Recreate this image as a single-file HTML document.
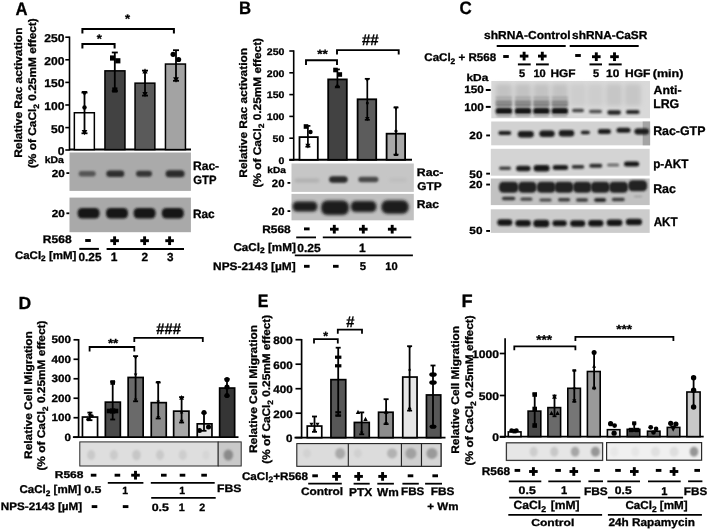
<!DOCTYPE html>
<html><head><meta charset="utf-8"><style>
html,body{margin:0;padding:0;background:#fff;}
svg{display:block;}
text{font-family:"Liberation Sans", sans-serif;stroke:#000;stroke-width:0.3px;text-rendering:geometricPrecision;}
svg{will-change:transform;}
</style></head><body>
<svg width="708" height="530" viewBox="0 0 708 530" font-family='"Liberation Sans", sans-serif'>
<defs>
<filter id="b2" x="-50%" y="-50%" width="200%" height="200%"><feGaussianBlur stdDeviation="0.2"/></filter>
<filter id="b8" x="-50%" y="-50%" width="200%" height="200%"><feGaussianBlur stdDeviation="0.8"/></filter>
<filter id="b9" x="-50%" y="-50%" width="200%" height="200%"><feGaussianBlur stdDeviation="0.9"/></filter>
<filter id="b10" x="-50%" y="-50%" width="200%" height="200%"><feGaussianBlur stdDeviation="1.0"/></filter>
<filter id="b11" x="-50%" y="-50%" width="200%" height="200%"><feGaussianBlur stdDeviation="1.1"/></filter>
<filter id="b12" x="-50%" y="-50%" width="200%" height="200%"><feGaussianBlur stdDeviation="1.2"/></filter>
<filter id="b13" x="-50%" y="-50%" width="200%" height="200%"><feGaussianBlur stdDeviation="1.3"/></filter>
<filter id="b14" x="-50%" y="-50%" width="200%" height="200%"><feGaussianBlur stdDeviation="1.4"/></filter>
<filter id="b15" x="-50%" y="-50%" width="200%" height="200%"><feGaussianBlur stdDeviation="1.5"/></filter>
<filter id="b22" x="-50%" y="-50%" width="200%" height="200%"><feGaussianBlur stdDeviation="2.2"/></filter>
</defs>
<rect width="708" height="530" fill="#fff"/>
<text x="15.5" y="14.5" font-size="18.12" text-anchor="start" font-weight="bold" fill="#000" textLength="12.04" lengthAdjust="spacingAndGlyphs">A</text>
<text transform="translate(21.9,157.84) rotate(-90)" x="0" y="0" font-size="11" font-weight="bold" textLength="130.29" lengthAdjust="spacingAndGlyphs">Relative Rac activation</text>
<text transform="translate(36.3,168.09) rotate(-90)" x="0" y="0" font-size="11" font-weight="bold" textLength="149.87" lengthAdjust="spacingAndGlyphs">(% of CaCl<tspan font-size="7.9" dy="2.5">2</tspan><tspan dy="-2.5"> 0.25mM effect)</tspan></text>
<line x1="69.5" y1="36.5" x2="69.5" y2="150.4" stroke="#000" stroke-width="1.6"/>
<line x1="65.3" y1="37.2" x2="69.5" y2="37.2" stroke="#000" stroke-width="1.6"/>
<text x="44.3" y="42.23" font-size="11.4" text-anchor="start" font-weight="bold" fill="#000" textLength="20.16" lengthAdjust="spacingAndGlyphs">250</text>
<line x1="65.3" y1="59.8" x2="69.5" y2="59.8" stroke="#000" stroke-width="1.6"/>
<text x="44.3" y="64.83" font-size="11.4" text-anchor="start" font-weight="bold" fill="#000" textLength="20.16" lengthAdjust="spacingAndGlyphs">200</text>
<line x1="65.3" y1="82.4" x2="69.5" y2="82.4" stroke="#000" stroke-width="1.6"/>
<text x="44.3" y="87.43" font-size="11.4" text-anchor="start" font-weight="bold" fill="#000" textLength="20.16" lengthAdjust="spacingAndGlyphs">150</text>
<line x1="65.3" y1="105.0" x2="69.5" y2="105.0" stroke="#000" stroke-width="1.6"/>
<text x="44.3" y="110.03" font-size="11.4" text-anchor="start" font-weight="bold" fill="#000" textLength="20.16" lengthAdjust="spacingAndGlyphs">100</text>
<line x1="65.3" y1="127.6" x2="69.5" y2="127.6" stroke="#000" stroke-width="1.6"/>
<text x="50.95" y="132.63" font-size="11.4" text-anchor="start" font-weight="bold" fill="#000" textLength="13.44" lengthAdjust="spacingAndGlyphs">50</text>
<line x1="65.3" y1="150" x2="69.5" y2="150" stroke="#000" stroke-width="1.6"/>
<text x="57.72" y="155.03" font-size="11.4" text-anchor="start" font-weight="bold" fill="#000" textLength="6.72" lengthAdjust="spacingAndGlyphs">0</text>
<line x1="69" y1="149.6" x2="191" y2="149.6" stroke="#000" stroke-width="2"/>
<rect x="74.35" y="112.75" width="20.0" height="36.849999999999994" fill="#ffffff" stroke="#000" stroke-width="1.5"/>
<rect x="104.95" y="70.85" width="20.0" height="78.75" fill="#424242" stroke="#000" stroke-width="1.5"/>
<rect x="135.05" y="83.15" width="19.799999999999983" height="66.44999999999999" fill="#5a5a5a" stroke="#000" stroke-width="1.5"/>
<rect x="165.45" y="64.05" width="20.0" height="85.55" fill="#a3a3a3" stroke="#000" stroke-width="1.5"/>
<line x1="84.5" y1="92.6" x2="84.5" y2="133.3" stroke="#000" stroke-width="1.8"/>
<line x1="81.5" y1="92.6" x2="87.5" y2="92.6" stroke="#000" stroke-width="1.8"/>
<line x1="81.5" y1="133.3" x2="87.5" y2="133.3" stroke="#000" stroke-width="1.8"/>
<polygon points="81.64,90.9 87.36,90.9 84.5,96.36" fill="#000"/>
<circle cx="84.5" cy="107.5" r="2.2" fill="#000"/>
<polygon points="81.64,129.9 87.36,129.9 84.5,135.36" fill="#000"/>
<line x1="114.8" y1="52.5" x2="114.8" y2="91" stroke="#000" stroke-width="1.8"/>
<line x1="111.8" y1="52.5" x2="117.8" y2="52.5" stroke="#000" stroke-width="1.8"/>
<line x1="111.8" y1="91" x2="117.8" y2="91" stroke="#000" stroke-width="1.8"/>
<rect x="110.0" y="55.4" width="5.2" height="5.2" fill="#000"/>
<rect x="115.2" y="58.199999999999996" width="5.2" height="5.2" fill="#000"/>
<rect x="112.2" y="87.4" width="5.2" height="5.2" fill="#000"/>
<line x1="145" y1="70.6" x2="145" y2="95.6" stroke="#000" stroke-width="1.8"/>
<line x1="142.0" y1="70.6" x2="148.0" y2="70.6" stroke="#000" stroke-width="1.8"/>
<line x1="142.0" y1="95.6" x2="148.0" y2="95.6" stroke="#000" stroke-width="1.8"/>
<polygon points="142.36,73.4 147.64,73.4 145,68.36" fill="#000"/>
<polygon points="142.36,92.1 147.64,92.1 145,97.14" fill="#000"/>
<line x1="176" y1="50.2" x2="176" y2="80.8" stroke="#000" stroke-width="1.8"/>
<line x1="173.0" y1="50.2" x2="179.0" y2="50.2" stroke="#000" stroke-width="1.8"/>
<line x1="173.0" y1="80.8" x2="179.0" y2="80.8" stroke="#000" stroke-width="1.8"/>
<circle cx="173.1" cy="54.3" r="2.6" fill="#000"/>
<circle cx="178.6" cy="59.5" r="2.6" fill="#000"/>
<polygon points="173.14,77.2 178.86,77.2 176,82.66" fill="#000"/>
<polyline points="82.4,33.4 82.4,29.0 173.9,29.0 173.9,33.4" fill="none" stroke="#000" stroke-width="2"/>
<text x="125.0" y="22.88" font-size="12.43" text-anchor="start" font-weight="bold" fill="#000" textLength="5.09" lengthAdjust="spacingAndGlyphs">*</text>
<polyline points="82.4,48.5 82.4,44.1 114.6,44.1 114.6,48.5" fill="none" stroke="#000" stroke-width="2"/>
<text x="96.8" y="43.08" font-size="12.43" text-anchor="start" font-weight="bold" fill="#000" textLength="5.09" lengthAdjust="spacingAndGlyphs">*</text>
<rect x="69.5" y="152.5" width="121.4" height="38.4" fill="#aaaaaa"/>
<rect x="78.70" y="170.95" width="17" height="5.5" rx="2.75" fill="#555555" opacity="1" filter="url(#b12)"/>
<rect x="106.30" y="170.45" width="18" height="6.5" rx="3.25" fill="#2e2e2e" opacity="1" filter="url(#b12)"/>
<rect x="136.00" y="170.70" width="16" height="6" rx="3.0" fill="#353535" opacity="1" filter="url(#b12)"/>
<rect x="165.60" y="170.20" width="19" height="7" rx="3.5" fill="#2a2a2a" opacity="1" filter="url(#b12)"/>
<rect x="69.5" y="197.6" width="121.4" height="34.6" fill="#a9a9a9"/>
<rect x="77.60" y="207.95" width="22" height="10.5" rx="4.5" fill="#161616" opacity="1" filter="url(#b13)"/>
<rect x="106.00" y="207.95" width="22" height="10.5" rx="4.5" fill="#161616" opacity="1" filter="url(#b13)"/>
<rect x="133.60" y="207.95" width="22" height="10.5" rx="4.5" fill="#161616" opacity="1" filter="url(#b13)"/>
<rect x="161.80" y="207.95" width="22" height="10.5" rx="4.5" fill="#161616" opacity="1" filter="url(#b13)"/>
<text x="44.77" y="162.71" font-size="9.45" text-anchor="start" font-weight="bold" fill="#000" textLength="19.17" lengthAdjust="spacingAndGlyphs">kDa</text>
<text x="51.75" y="177.0" font-size="10.28" text-anchor="start" font-weight="bold" fill="#000" textLength="13.03" lengthAdjust="spacingAndGlyphs">20</text>
<rect x="66.4" y="172.2" width="2.9" height="1.8" fill="#000"/>
<text x="51.75" y="216.6" font-size="10.28" text-anchor="start" font-weight="bold" fill="#000" textLength="13.03" lengthAdjust="spacingAndGlyphs">20</text>
<rect x="66.4" y="212.4" width="2.9" height="1.8" fill="#000"/>
<text x="192.95" y="169.68" font-size="12.29" text-anchor="start" font-weight="bold" fill="#000" textLength="26.22" lengthAdjust="spacingAndGlyphs">Rac-</text>
<text x="193.35" y="183.78" font-size="11.97" text-anchor="start" font-weight="bold" fill="#000" textLength="23.15" lengthAdjust="spacingAndGlyphs">GTP</text>
<text x="192.97" y="217.68" font-size="12.0" text-anchor="start" font-weight="bold" fill="#000" textLength="21.72" lengthAdjust="spacingAndGlyphs">Rac</text>
<text x="42.86" y="243.19" font-size="10.99" text-anchor="start" font-weight="bold" fill="#000" textLength="28.71" lengthAdjust="spacingAndGlyphs">R568</text>
<rect x="85.2" y="239.05" width="5.6" height="2.9" fill="#000"/>
<rect x="110.3" y="239.25" width="8.6" height="2.9" fill="#000"/>
<rect x="113.14999999999999" y="236.35" width="2.9" height="8.7" fill="#000"/>
<rect x="140.29999999999998" y="239.25" width="8.6" height="2.9" fill="#000"/>
<rect x="143.15" y="236.35" width="2.9" height="8.7" fill="#000"/>
<rect x="165.29999999999998" y="239.25" width="8.6" height="2.9" fill="#000"/>
<rect x="168.15" y="236.35" width="2.9" height="8.7" fill="#000"/>
<line x1="79.3" y1="248.9" x2="98.9" y2="248.9" stroke="#000" stroke-width="2"/>
<line x1="106.6" y1="248.9" x2="184" y2="248.9" stroke="#000" stroke-width="2"/>
<text x="14.9" y="258.9" font-size="11" text-anchor="start" font-weight="bold" fill="#000" textLength="61.5" lengthAdjust="spacingAndGlyphs">CaCl<tspan font-size="7.9" dy="2.5">2</tspan><tspan dy="-2.5"> [mM]</tspan></text>
<text x="78.53" y="261.08" font-size="11.69" text-anchor="start" font-weight="bold" fill="#000" textLength="22.98" lengthAdjust="spacingAndGlyphs">0.25</text>
<text x="110.65" y="261.2" font-size="12.03" text-anchor="start" font-weight="bold" fill="#000">1</text>
<text x="141.43" y="261.2" font-size="11.86" text-anchor="start" font-weight="bold" fill="#000">2</text>
<text x="167.12" y="261.08" font-size="11.69" text-anchor="start" font-weight="bold" fill="#000">3</text>
<text x="239.03" y="14.4" font-size="17.97" text-anchor="start" font-weight="bold" fill="#000" textLength="12.08" lengthAdjust="spacingAndGlyphs">B</text>
<text transform="translate(247.0,177.63) rotate(-90)" x="0" y="0" font-size="11" font-weight="bold" textLength="129.68" lengthAdjust="spacingAndGlyphs">Relative Rac activation</text>
<text transform="translate(261.2,187.59) rotate(-90)" x="0" y="0" font-size="11" font-weight="bold" textLength="149.67" lengthAdjust="spacingAndGlyphs">(% of CaCl<tspan font-size="7.9" dy="2.5">2</tspan><tspan dy="-2.5"> 0.25mM effect)</tspan></text>
<line x1="293.7" y1="50.3" x2="293.7" y2="160.5" stroke="#000" stroke-width="1.6"/>
<line x1="289.3" y1="51.0" x2="293.7" y2="51.0" stroke="#000" stroke-width="1.6"/>
<text x="266.79" y="54.71" font-size="9.6" text-anchor="start" font-weight="bold" fill="#000" textLength="17.62" lengthAdjust="spacingAndGlyphs">250</text>
<line x1="289.3" y1="72.8" x2="293.7" y2="72.8" stroke="#000" stroke-width="1.6"/>
<text x="266.79" y="76.51" font-size="9.6" text-anchor="start" font-weight="bold" fill="#000" textLength="17.62" lengthAdjust="spacingAndGlyphs">200</text>
<line x1="289.3" y1="94.6" x2="293.7" y2="94.6" stroke="#000" stroke-width="1.6"/>
<text x="266.79" y="98.31" font-size="9.6" text-anchor="start" font-weight="bold" fill="#000" textLength="17.62" lengthAdjust="spacingAndGlyphs">150</text>
<line x1="289.3" y1="116.4" x2="293.7" y2="116.4" stroke="#000" stroke-width="1.6"/>
<text x="266.79" y="120.11" font-size="9.6" text-anchor="start" font-weight="bold" fill="#000" textLength="17.62" lengthAdjust="spacingAndGlyphs">100</text>
<line x1="289.3" y1="138.2" x2="293.7" y2="138.2" stroke="#000" stroke-width="1.6"/>
<text x="272.6" y="141.91" font-size="9.6" text-anchor="start" font-weight="bold" fill="#000" textLength="11.74" lengthAdjust="spacingAndGlyphs">50</text>
<line x1="289.3" y1="160.0" x2="293.7" y2="160.0" stroke="#000" stroke-width="1.6"/>
<text x="278.51" y="163.71" font-size="9.6" text-anchor="start" font-weight="bold" fill="#000" textLength="5.87" lengthAdjust="spacingAndGlyphs">0</text>
<line x1="289.3" y1="159.8" x2="412" y2="159.8" stroke="#000" stroke-width="2"/>
<rect x="299.5" y="137.1" width="18.299999999999965" height="22.700000000000024" fill="#ffffff" stroke="#000" stroke-width="1.8"/>
<rect x="328.2" y="79.4" width="18.599999999999977" height="80.4" fill="#424242" stroke="#000" stroke-width="1.8"/>
<rect x="357.59999999999997" y="99.30000000000001" width="18.600000000000033" height="60.50000000000001" fill="#5c5c5c" stroke="#000" stroke-width="1.8"/>
<rect x="386.59999999999997" y="133.70000000000002" width="18.50000000000001" height="26.1" fill="#a8a8a8" stroke="#000" stroke-width="1.8"/>
<line x1="307.9" y1="125.9" x2="307.9" y2="146.7" stroke="#000" stroke-width="1.7"/>
<line x1="305.4" y1="125.9" x2="310.4" y2="125.9" stroke="#000" stroke-width="1.7"/>
<line x1="305.4" y1="146.7" x2="310.4" y2="146.7" stroke="#000" stroke-width="1.7"/>
<rect x="303.7" y="124.2" width="4.6" height="4.6" fill="#000"/>
<circle cx="310.5" cy="132" r="2.2" fill="#000"/>
<polygon points="305.37,143.7 310.42999999999995,143.7 307.9,148.53" fill="#000"/>
<line x1="337.4" y1="69.4" x2="337.4" y2="86.6" stroke="#000" stroke-width="1.7"/>
<line x1="334.9" y1="69.4" x2="339.9" y2="69.4" stroke="#000" stroke-width="1.7"/>
<line x1="334.9" y1="86.6" x2="339.9" y2="86.6" stroke="#000" stroke-width="1.7"/>
<rect x="333.2" y="67.7" width="4.6" height="4.6" fill="#000"/>
<rect x="337.5" y="72.2" width="4.6" height="4.6" fill="#000"/>
<polygon points="334.65,88.3 340.15,88.3 337.4,83.05" fill="#000"/>
<line x1="367.3" y1="78.8" x2="367.3" y2="119.8" stroke="#000" stroke-width="1.7"/>
<line x1="364.8" y1="78.8" x2="369.8" y2="78.8" stroke="#000" stroke-width="1.7"/>
<line x1="364.8" y1="119.8" x2="369.8" y2="119.8" stroke="#000" stroke-width="1.7"/>
<polygon points="365.1,78 369.5,78 367.3,82.2" fill="#000"/>
<circle cx="367.3" cy="103" r="1.5" fill="#000"/>
<polygon points="365.1,117 369.5,117 367.3,121.2" fill="#000"/>
<line x1="396" y1="107.5" x2="396" y2="154.6" stroke="#000" stroke-width="1.7"/>
<line x1="393.5" y1="107.5" x2="398.5" y2="107.5" stroke="#000" stroke-width="1.7"/>
<line x1="393.5" y1="154.6" x2="398.5" y2="154.6" stroke="#000" stroke-width="1.7"/>
<polygon points="393.8,106.5 398.2,106.5 396,110.7" fill="#000"/>
<circle cx="396" cy="131" r="1.6" fill="#000"/>
<polygon points="393.8,156 398.2,156 396,151.8" fill="#000"/>
<polyline points="306,64.89999999999999 306,60.3 337.0,60.3 337.0,64.89999999999999" fill="none" stroke="#000" stroke-width="1.9"/>
<text x="317.3" y="57.59" font-size="12.16" text-anchor="start" font-weight="bold" fill="#000" textLength="10.58" lengthAdjust="spacingAndGlyphs">**</text>
<polyline points="337.0,54.5 337.0,50.1 398.7,50.1 398.7,54.5" fill="none" stroke="#000" stroke-width="1.9"/>
<text x="361.9" y="44.7" font-size="15.29" text-anchor="start" font-weight="bold" fill="#000" textLength="16.68" lengthAdjust="spacingAndGlyphs">##</text>
<rect x="291.5" y="163.5" width="122.3" height="28.4" fill="#c6c6c6"/>
<rect x="294.40" y="178.50" width="25" height="4" rx="2.0" fill="#b0b0b0" opacity="1" filter="url(#b15)"/>
<rect x="329.15" y="176.15" width="18.5" height="6.5" rx="3.25" fill="#2a2a2a" opacity="1" filter="url(#b13)"/>
<rect x="358.40" y="176.65" width="20" height="5.5" rx="2.75" fill="#484848" opacity="1" filter="url(#b13)"/>
<rect x="389.00" y="178.00" width="18" height="4" rx="2.0" fill="#bebebe" opacity="1" filter="url(#b15)"/>
<rect x="291.5" y="193.9" width="122.3" height="26.4" fill="#c0c0c0"/>
<rect x="292.60" y="201.50" width="24.8" height="10" rx="4.5" fill="#1c1c1c" opacity="1" filter="url(#b14)"/>
<rect x="321.15" y="200.45" width="27.7" height="14.5" rx="6" fill="#1c1c1c" opacity="1" filter="url(#b14)"/>
<rect x="350.75" y="201.10" width="25.7" height="11" rx="5" fill="#1c1c1c" opacity="1" filter="url(#b14)"/>
<rect x="381.35" y="200.25" width="27.3" height="13.5" rx="6" fill="#1a1a1a" opacity="1" filter="url(#b14)"/>
<text x="267.3" y="173.01" font-size="8.9" text-anchor="start" font-weight="bold" fill="#000" textLength="18.45" lengthAdjust="spacingAndGlyphs">kDa</text>
<text x="271.86" y="186.59" font-size="10.7" text-anchor="start" font-weight="bold" fill="#000" textLength="12.6" lengthAdjust="spacingAndGlyphs">20</text>
<rect x="287.5" y="182" width="2.8" height="1.8" fill="#000"/>
<text x="271.86" y="214.79" font-size="10.7" text-anchor="start" font-weight="bold" fill="#000" textLength="12.6" lengthAdjust="spacingAndGlyphs">20</text>
<rect x="287.5" y="210.2" width="2.8" height="1.8" fill="#000"/>
<text x="416.84" y="175.69" font-size="11.0" text-anchor="start" font-weight="bold" fill="#000" textLength="26.64" lengthAdjust="spacingAndGlyphs">Rac-</text>
<text x="417.23" y="190.19" font-size="11.13" text-anchor="start" font-weight="bold" fill="#000" textLength="24.4" lengthAdjust="spacingAndGlyphs">GTP</text>
<text x="416.86" y="208.49" font-size="11.29" text-anchor="start" font-weight="bold" fill="#000" textLength="22.14" lengthAdjust="spacingAndGlyphs">Rac</text>
<text x="262.27" y="232.59" font-size="10.85" text-anchor="start" font-weight="bold" fill="#000" textLength="28.39" lengthAdjust="spacingAndGlyphs">R568</text>
<rect x="304.0" y="227.45000000000002" width="5.6" height="2.9" fill="#000"/>
<rect x="330.0" y="227.75" width="8.6" height="2.9" fill="#000"/>
<rect x="332.85" y="224.85" width="2.9" height="8.7" fill="#000"/>
<rect x="359.0" y="227.75" width="8.6" height="2.9" fill="#000"/>
<rect x="361.85" y="224.85" width="2.9" height="8.7" fill="#000"/>
<rect x="387.9" y="227.75" width="8.6" height="2.9" fill="#000"/>
<rect x="390.75" y="224.85" width="2.9" height="8.7" fill="#000"/>
<line x1="296.2" y1="237.4" x2="316" y2="237.4" stroke="#000" stroke-width="1.8"/>
<line x1="322.8" y1="237.4" x2="411.3" y2="237.4" stroke="#000" stroke-width="1.8"/>
<text x="233.4" y="250.7" font-size="11.3" text-anchor="start" font-weight="bold" fill="#000" textLength="62.4" lengthAdjust="spacingAndGlyphs">CaCl<tspan font-size="8.1" dy="2.5">2</tspan><tspan dy="-2.5"> [mM]</tspan></text>
<text x="297.22" y="251.58" font-size="11.69" text-anchor="start" font-weight="bold" fill="#000" textLength="23.39" lengthAdjust="spacingAndGlyphs">0.25</text>
<text x="358.88" y="251.7" font-size="12.03" text-anchor="start" font-weight="bold" fill="#000">1</text>
<line x1="294.8" y1="255.3" x2="412.9" y2="255.3" stroke="#000" stroke-width="1.8"/>
<text x="213.1" y="270.2" font-size="11" text-anchor="start" font-weight="bold" fill="#000" textLength="82.6" lengthAdjust="spacingAndGlyphs">NPS-2143 [µM]</text>
<rect x="304.0" y="264.85" width="5.6" height="2.9" fill="#000"/>
<rect x="333.0" y="264.85" width="5.6" height="2.9" fill="#000"/>
<text x="359.66" y="270.09" font-size="11.29" text-anchor="start" font-weight="bold" fill="#000">5</text>
<text x="385.33" y="270.09" font-size="11.13" text-anchor="start" font-weight="bold" fill="#000">10</text>
<text x="459.52" y="14.42" font-size="18.03" text-anchor="start" font-weight="bold" fill="#000" textLength="12.22" lengthAdjust="spacingAndGlyphs">C</text>
<text x="484.02" y="39.28" font-size="11.51" text-anchor="start" font-weight="bold" fill="#000" textLength="86.63" lengthAdjust="spacingAndGlyphs">shRNA-Control</text>
<text x="572.12" y="39.28" font-size="11.51" text-anchor="start" font-weight="bold" fill="#000" textLength="75.26" lengthAdjust="spacingAndGlyphs">shRNA-CaSR</text>
<line x1="496.7" y1="46.0" x2="565.7" y2="46.0" stroke="#000" stroke-width="2"/>
<line x1="569.7" y1="46.0" x2="638.7" y2="46.0" stroke="#000" stroke-width="2"/>
<text x="424.3" y="61.0" font-size="11.2" text-anchor="start" font-weight="bold" fill="#000" textLength="71.8" lengthAdjust="spacingAndGlyphs">CaCl<tspan font-size="8.1" dy="2.5">2</tspan><tspan dy="-2.5"> + R568</tspan></text>
<rect x="503.2" y="55.05" width="5.6" height="2.9" fill="#000"/>
<rect x="519.8000000000001" y="54.65" width="8.6" height="2.9" fill="#000"/>
<rect x="522.65" y="51.75" width="2.9" height="8.7" fill="#000"/>
<rect x="538.0" y="54.65" width="8.6" height="2.9" fill="#000"/>
<rect x="540.8499999999999" y="51.75" width="2.9" height="8.7" fill="#000"/>
<rect x="575.2" y="54.05" width="5.6" height="2.9" fill="#000"/>
<rect x="592.0" y="55.25" width="8.6" height="2.9" fill="#000"/>
<rect x="594.8499999999999" y="52.35" width="2.9" height="8.7" fill="#000"/>
<rect x="610.2" y="55.25" width="8.6" height="2.9" fill="#000"/>
<rect x="613.05" y="52.35" width="2.9" height="8.7" fill="#000"/>
<line x1="517.9" y1="64.4" x2="530.7" y2="64.4" stroke="#000" stroke-width="2"/>
<line x1="536" y1="64.4" x2="548.8" y2="64.4" stroke="#000" stroke-width="2"/>
<line x1="589.5" y1="64.4" x2="602" y2="64.4" stroke="#000" stroke-width="2"/>
<line x1="608.7" y1="64.4" x2="621.7" y2="64.4" stroke="#000" stroke-width="2"/>
<text x="466.47" y="80.5" font-size="10.14" text-anchor="start" font-weight="bold" fill="#000" textLength="21.87" lengthAdjust="spacingAndGlyphs">kDa</text>
<text x="519.02" y="77.29" font-size="11.0" text-anchor="start" font-weight="bold" fill="#000">5</text>
<text x="533.44" y="77.29" font-size="10.85" text-anchor="start" font-weight="bold" fill="#000" textLength="12.32" lengthAdjust="spacingAndGlyphs">10</text>
<text x="550.47" y="77.49" font-size="10.99" text-anchor="start" font-weight="bold" fill="#000" textLength="25.12" lengthAdjust="spacingAndGlyphs">HGF</text>
<text x="592.92" y="77.29" font-size="11.0" text-anchor="start" font-weight="bold" fill="#000">5</text>
<text x="606.09" y="77.29" font-size="10.85" text-anchor="start" font-weight="bold" fill="#000" textLength="13.19" lengthAdjust="spacingAndGlyphs">10</text>
<text x="625.06" y="77.49" font-size="10.99" text-anchor="start" font-weight="bold" fill="#000" textLength="25.43" lengthAdjust="spacingAndGlyphs">HGF</text>
<text x="652.77" y="77.04" font-size="10.75" text-anchor="start" font-weight="bold" fill="#000" textLength="30.7" lengthAdjust="spacingAndGlyphs">(min)</text>
<rect x="491.3" y="81.0" width="158.7" height="37.3" fill="#d9d9d9"/>
<rect x="495.90" y="84.00" width="16" height="22" rx="3" fill="#c2c2c2" opacity="1" filter="url(#b22)"/>
<rect x="515.00" y="84.00" width="16" height="22" rx="3" fill="#c2c2c2" opacity="1" filter="url(#b22)"/>
<rect x="533.40" y="84.00" width="16" height="22" rx="3" fill="#c2c2c2" opacity="1" filter="url(#b22)"/>
<rect x="551.80" y="84.00" width="16" height="22" rx="3" fill="#c2c2c2" opacity="1" filter="url(#b22)"/>
<rect x="570.00" y="84.00" width="16" height="22" rx="3" fill="#cdcdcd" opacity="1" filter="url(#b22)"/>
<rect x="587.50" y="84.00" width="16" height="22" rx="3" fill="#cdcdcd" opacity="1" filter="url(#b22)"/>
<rect x="606.10" y="84.00" width="16" height="22" rx="3" fill="#c6c6c6" opacity="1" filter="url(#b22)"/>
<rect x="624.80" y="84.00" width="16" height="22" rx="3" fill="#c6c6c6" opacity="1" filter="url(#b22)"/>
<rect x="495.90" y="96.50" width="16" height="3" rx="1" fill="#a8a8a8" opacity="1" filter="url(#b10)"/>
<rect x="495.65" y="100.40" width="16.5" height="2.8" rx="1" fill="#7c7c7c" opacity="1" filter="url(#b8)"/>
<rect x="495.65" y="103.40" width="16.5" height="2.8" rx="1" fill="#6c6c6c" opacity="1" filter="url(#b8)"/>
<rect x="495.65" y="107.80" width="16.5" height="6.4" rx="2.5" fill="#121212" opacity="1" filter="url(#b9)"/>
<rect x="496.40" y="114.25" width="15" height="2.5" rx="1" fill="#a0a0a0" opacity="1" filter="url(#b10)"/>
<rect x="515.00" y="96.50" width="16" height="3" rx="1" fill="#a8a8a8" opacity="1" filter="url(#b10)"/>
<rect x="514.75" y="100.40" width="16.5" height="2.8" rx="1" fill="#7c7c7c" opacity="1" filter="url(#b8)"/>
<rect x="514.75" y="103.40" width="16.5" height="2.8" rx="1" fill="#6c6c6c" opacity="1" filter="url(#b8)"/>
<rect x="514.75" y="107.80" width="16.5" height="6.4" rx="2.5" fill="#121212" opacity="1" filter="url(#b9)"/>
<rect x="515.50" y="114.25" width="15" height="2.5" rx="1" fill="#a0a0a0" opacity="1" filter="url(#b10)"/>
<rect x="533.40" y="96.50" width="16" height="3" rx="1" fill="#a8a8a8" opacity="1" filter="url(#b10)"/>
<rect x="533.15" y="100.40" width="16.5" height="2.8" rx="1" fill="#7c7c7c" opacity="1" filter="url(#b8)"/>
<rect x="533.15" y="103.40" width="16.5" height="2.8" rx="1" fill="#6c6c6c" opacity="1" filter="url(#b8)"/>
<rect x="533.15" y="107.80" width="16.5" height="6.4" rx="2.5" fill="#121212" opacity="1" filter="url(#b9)"/>
<rect x="533.90" y="114.25" width="15" height="2.5" rx="1" fill="#a0a0a0" opacity="1" filter="url(#b10)"/>
<rect x="551.80" y="96.50" width="16" height="3" rx="1" fill="#a8a8a8" opacity="1" filter="url(#b10)"/>
<rect x="551.55" y="100.40" width="16.5" height="2.8" rx="1" fill="#7c7c7c" opacity="1" filter="url(#b8)"/>
<rect x="551.55" y="103.40" width="16.5" height="2.8" rx="1" fill="#6c6c6c" opacity="1" filter="url(#b8)"/>
<rect x="551.55" y="107.80" width="16.5" height="6.4" rx="2.5" fill="#121212" opacity="1" filter="url(#b9)"/>
<rect x="552.30" y="114.25" width="15" height="2.5" rx="1" fill="#a0a0a0" opacity="1" filter="url(#b10)"/>
<rect x="572.00" y="108.75" width="12" height="3.5" rx="1.8" fill="#454545" opacity="1" filter="url(#b9)"/>
<rect x="589.00" y="109.65" width="13" height="3.5" rx="1.8" fill="#505050" opacity="1" filter="url(#b9)"/>
<rect x="607.35" y="110.15" width="13.5" height="4.5" rx="1.8" fill="#252525" opacity="1" filter="url(#b9)"/>
<rect x="626.05" y="110.00" width="13.5" height="4" rx="1.8" fill="#2a2a2a" opacity="1" filter="url(#b9)"/>
<rect x="491.2" y="121.5" width="158.9" height="23.8" fill="#d2d2d2"/>
<rect x="642.7" y="121.5" width="7.4" height="23.8" fill="#a4a4a4"/>
<rect x="498.40" y="131.10" width="12.8" height="4" rx="2.0" fill="#1a1a1a" opacity="1" filter="url(#b9)"/>
<rect x="517.80" y="130.95" width="16" height="6.5" rx="3.25" fill="#1a1a1a" opacity="1" filter="url(#b9)"/>
<rect x="539.35" y="130.55" width="15.3" height="6.5" rx="3.25" fill="#1a1a1a" opacity="1" filter="url(#b9)"/>
<rect x="558.75" y="130.05" width="15.5" height="6.5" rx="3.25" fill="#1a1a1a" opacity="1" filter="url(#b9)"/>
<rect x="580.80" y="130.65" width="9" height="3.5" rx="1.75" fill="#1a1a1a" opacity="1" filter="url(#b9)"/>
<rect x="597.90" y="128.90" width="13" height="5" rx="2.5" fill="#1a1a1a" opacity="1" filter="url(#b9)"/>
<rect x="616.50" y="127.80" width="14" height="5" rx="2.5" fill="#1a1a1a" opacity="1" filter="url(#b9)"/>
<rect x="634.40" y="128.40" width="14.6" height="6" rx="3.0" fill="#1a1a1a" opacity="1" filter="url(#b9)"/>
<rect x="490.8" y="148.8" width="158.9" height="26.9" fill="#d4d4d4"/>
<rect x="499.00" y="166.45" width="12" height="3.5" rx="1.75" fill="#404040" opacity="1" filter="url(#b9)"/>
<rect x="516.05" y="165.75" width="14.5" height="5.5" rx="2.75" fill="#1c1c1c" opacity="1" filter="url(#b9)"/>
<rect x="533.60" y="165.05" width="16" height="6.5" rx="3.25" fill="#121212" opacity="1" filter="url(#b9)"/>
<rect x="552.65" y="165.10" width="15.5" height="5" rx="2.5" fill="#1e1e1e" opacity="1" filter="url(#b9)"/>
<rect x="571.75" y="164.90" width="12.5" height="3.8" rx="1.9" fill="#333" opacity="1" filter="url(#b9)"/>
<rect x="589.30" y="163.70" width="13" height="4" rx="2.0" fill="#2e2e2e" opacity="1" filter="url(#b9)"/>
<rect x="607.10" y="163.50" width="12" height="3" rx="1.5" fill="#6a6a6a" opacity="1" filter="url(#b9)"/>
<rect x="624.00" y="161.60" width="15.2" height="5" rx="2.5" fill="#181818" opacity="1" filter="url(#b9)"/>
<rect x="490.8" y="178.5" width="158.9" height="26.6" fill="#c2c2c2"/>
<rect x="498.95" y="181.70" width="19.5" height="11" rx="4.5" fill="#222222" opacity="1" filter="url(#b10)"/>
<rect x="518.15" y="181.70" width="18.5" height="11" rx="4.5" fill="#222222" opacity="1" filter="url(#b10)"/>
<rect x="536.70" y="181.70" width="19" height="11" rx="4.5" fill="#222222" opacity="1" filter="url(#b10)"/>
<rect x="554.50" y="181.70" width="19" height="11" rx="4.5" fill="#222222" opacity="1" filter="url(#b10)"/>
<rect x="573.05" y="181.70" width="18.5" height="11" rx="4.5" fill="#222222" opacity="1" filter="url(#b10)"/>
<rect x="590.80" y="181.70" width="19" height="11" rx="4.5" fill="#222222" opacity="1" filter="url(#b10)"/>
<rect x="609.10" y="181.70" width="19" height="11" rx="4.5" fill="#222222" opacity="1" filter="url(#b10)"/>
<rect x="628.20" y="180.20" width="19" height="11" rx="4.5" fill="#222222" opacity="1" filter="url(#b10)"/>
<rect x="501.90" y="196.85" width="13.4" height="3.5" rx="1.75" fill="#333" opacity="1" filter="url(#b8)"/>
<rect x="520.40" y="197.60" width="12" height="3.2" rx="1.6" fill="#444" opacity="1" filter="url(#b8)"/>
<rect x="539.35" y="198.40" width="12.3" height="3.2" rx="1.6" fill="#444" opacity="1" filter="url(#b8)"/>
<rect x="558.00" y="198.10" width="12.2" height="3.4" rx="1.7" fill="#3a3a3a" opacity="1" filter="url(#b8)"/>
<rect x="576.00" y="198.30" width="12" height="3.4" rx="1.7" fill="#3a3a3a" opacity="1" filter="url(#b8)"/>
<rect x="594.10" y="197.90" width="12" height="4.2" rx="2.1" fill="#2a2a2a" opacity="1" filter="url(#b8)"/>
<rect x="611.90" y="197.80" width="12.8" height="3.4" rx="1.7" fill="#3a3a3a" opacity="1" filter="url(#b8)"/>
<rect x="634.00" y="195.70" width="8" height="1.6" rx="0.8" fill="#999" opacity="1" filter="url(#b8)"/>
<rect x="490.8" y="209.3" width="158.9" height="23.6" fill="#cccccc"/>
<rect x="497.30" y="219.25" width="15" height="6.5" rx="3.25" fill="#181818" opacity="1" filter="url(#b10)"/>
<rect x="515.30" y="219.95" width="15.6" height="6.5" rx="3.25" fill="#181818" opacity="1" filter="url(#b10)"/>
<rect x="533.20" y="219.75" width="16.2" height="7.5" rx="3.75" fill="#181818" opacity="1" filter="url(#b10)"/>
<rect x="552.40" y="220.20" width="14.4" height="6" rx="3.0" fill="#181818" opacity="1" filter="url(#b10)"/>
<rect x="570.15" y="220.25" width="15.1" height="6.5" rx="3.25" fill="#181818" opacity="1" filter="url(#b10)"/>
<rect x="588.15" y="219.95" width="15.3" height="6.5" rx="3.25" fill="#181818" opacity="1" filter="url(#b10)"/>
<rect x="606.60" y="219.55" width="15.8" height="6.5" rx="3.25" fill="#181818" opacity="1" filter="url(#b10)"/>
<rect x="625.80" y="218.75" width="16.2" height="6.5" rx="3.25" fill="#181818" opacity="1" filter="url(#b10)"/>
<text x="464.3" y="92.79" font-size="10.7" text-anchor="start" font-weight="bold" fill="#000" textLength="19.55" lengthAdjust="spacingAndGlyphs">150</text>
<rect x="485.8" y="89.0" width="4.9" height="2.0" fill="#000"/>
<text x="464.3" y="110.59" font-size="11.13" text-anchor="start" font-weight="bold" fill="#000" textLength="19.55" lengthAdjust="spacingAndGlyphs">100</text>
<rect x="485.8" y="105.9" width="4.9" height="2.0" fill="#000"/>
<text x="469.35" y="139.1" font-size="10.42" text-anchor="start" font-weight="bold" fill="#000" textLength="13.13" lengthAdjust="spacingAndGlyphs">20</text>
<rect x="486.2" y="134.5" width="3.8" height="1.9" fill="#000"/>
<text x="469.35" y="177.59" font-size="10.56" text-anchor="start" font-weight="bold" fill="#000" textLength="13.13" lengthAdjust="spacingAndGlyphs">50</text>
<rect x="486.2" y="172.7" width="3.8" height="1.9" fill="#000"/>
<text x="469.35" y="188.4" font-size="10.28" text-anchor="start" font-weight="bold" fill="#000" textLength="13.13" lengthAdjust="spacingAndGlyphs">20</text>
<rect x="486.2" y="183.6" width="3.8" height="1.9" fill="#000"/>
<text x="469.35" y="234.4" font-size="10.28" text-anchor="start" font-weight="bold" fill="#000" textLength="13.13" lengthAdjust="spacingAndGlyphs">50</text>
<rect x="486.2" y="230.0" width="3.8" height="1.9" fill="#000"/>
<text x="653.53" y="93.78" font-size="11.78" text-anchor="start" font-weight="bold" fill="#000" textLength="28.05" lengthAdjust="spacingAndGlyphs">Anti-</text>
<text x="653.13" y="108.17" font-size="12.68" text-anchor="start" font-weight="bold" fill="#000" textLength="26.12" lengthAdjust="spacingAndGlyphs">LRG</text>
<text x="653.14" y="134.78" font-size="12.39" text-anchor="start" font-weight="bold" fill="#000">Rac-GTP</text>
<text x="653.18" y="167.91" font-size="12.33" text-anchor="start" font-weight="bold" fill="#000" textLength="35.12" lengthAdjust="spacingAndGlyphs">p-AKT</text>
<text x="653.13" y="193.17" font-size="12.57" text-anchor="start" font-weight="bold" fill="#000" textLength="22.77" lengthAdjust="spacingAndGlyphs">Rac</text>
<text x="653.65" y="225.9" font-size="12.61" text-anchor="start" font-weight="bold" fill="#000" textLength="23.93" lengthAdjust="spacingAndGlyphs">AKT</text>
<text x="18.58" y="308.9" font-size="17.54" text-anchor="start" font-weight="bold" fill="#000">D</text>
<text transform="translate(31.7,458.93) rotate(-90)" x="0" y="0" font-size="11" font-weight="bold" textLength="127.80" lengthAdjust="spacingAndGlyphs">Relative Cell Migration</text>
<text transform="translate(45.3,470.59) rotate(-90)" x="0" y="0" font-size="11" font-weight="bold" textLength="150.07" lengthAdjust="spacingAndGlyphs">(% of CaCl<tspan font-size="7.9" dy="2.5">2</tspan><tspan dy="-2.5"> 0.25mM effect)</tspan></text>
<line x1="78.6" y1="339.0" x2="78.6" y2="437.8" stroke="#000" stroke-width="1.7"/>
<line x1="73.5" y1="339.8" x2="78.6" y2="339.8" stroke="#000" stroke-width="1.7"/>
<text x="51.59" y="343.36" font-size="10.6" text-anchor="start" font-weight="bold" fill="#000" textLength="19.45" lengthAdjust="spacingAndGlyphs">500</text>
<line x1="73.5" y1="359.28000000000003" x2="78.6" y2="359.28000000000003" stroke="#000" stroke-width="1.7"/>
<text x="51.59" y="362.84" font-size="10.6" text-anchor="start" font-weight="bold" fill="#000" textLength="19.45" lengthAdjust="spacingAndGlyphs">400</text>
<line x1="73.5" y1="378.76" x2="78.6" y2="378.76" stroke="#000" stroke-width="1.7"/>
<text x="51.59" y="382.32" font-size="10.6" text-anchor="start" font-weight="bold" fill="#000" textLength="19.45" lengthAdjust="spacingAndGlyphs">300</text>
<line x1="73.5" y1="398.24" x2="78.6" y2="398.24" stroke="#000" stroke-width="1.7"/>
<text x="51.59" y="401.8" font-size="10.6" text-anchor="start" font-weight="bold" fill="#000" textLength="19.45" lengthAdjust="spacingAndGlyphs">200</text>
<line x1="73.5" y1="417.72" x2="78.6" y2="417.72" stroke="#000" stroke-width="1.7"/>
<text x="51.59" y="421.28" font-size="10.6" text-anchor="start" font-weight="bold" fill="#000" textLength="19.45" lengthAdjust="spacingAndGlyphs">100</text>
<line x1="73.5" y1="437.20000000000005" x2="78.6" y2="437.20000000000005" stroke="#000" stroke-width="1.7"/>
<text x="64.54" y="440.76" font-size="10.6" text-anchor="start" font-weight="bold" fill="#000" textLength="6.48" lengthAdjust="spacingAndGlyphs">0</text>
<line x1="72.9" y1="437.1" x2="238.5" y2="437.1" stroke="#000" stroke-width="1.8"/>
<rect x="82.44999999999999" y="417.05" width="15.100000000000012" height="20.050000000000033" fill="#ffffff" stroke="#000" stroke-width="1.7"/>
<rect x="105.35" y="402.15000000000003" width="15.000000000000004" height="34.95000000000001" fill="#4a4a4a" stroke="#000" stroke-width="1.7"/>
<rect x="128.15" y="377.45000000000005" width="15.000000000000004" height="59.65" fill="#6a6a6a" stroke="#000" stroke-width="1.7"/>
<rect x="151.25" y="402.65000000000003" width="14.99999999999999" height="34.45000000000001" fill="#8c8c8c" stroke="#000" stroke-width="1.7"/>
<rect x="173.65" y="411.15000000000003" width="15.3" height="25.95000000000001" fill="#a8a8a8" stroke="#000" stroke-width="1.7"/>
<rect x="197.25" y="423.85" width="14.700000000000006" height="13.250000000000023" fill="#e4e4e4" stroke="#000" stroke-width="1.7"/>
<rect x="219.65" y="388.05" width="14.99999999999999" height="49.05000000000003" fill="#353535" stroke="#000" stroke-width="1.7"/>
<line x1="89.9" y1="412.6" x2="89.9" y2="420.2" stroke="#000" stroke-width="1.8"/>
<line x1="87.4" y1="412.6" x2="92.4" y2="412.6" stroke="#000" stroke-width="1.8"/>
<line x1="87.4" y1="420.2" x2="92.4" y2="420.2" stroke="#000" stroke-width="1.8"/>
<polygon points="87.7,415.5 92.10000000000001,415.5 89.9,411.3" fill="#000"/>
<circle cx="92" cy="416" r="1.8" fill="#000"/>
<circle cx="88" cy="419.5" r="1.8" fill="#000"/>
<line x1="112.7" y1="381.8" x2="112.7" y2="419.5" stroke="#000" stroke-width="1.8"/>
<line x1="110.2" y1="381.8" x2="115.2" y2="381.8" stroke="#000" stroke-width="1.8"/>
<line x1="110.2" y1="419.5" x2="115.2" y2="419.5" stroke="#000" stroke-width="1.8"/>
<rect x="110.4" y="380.2" width="4.6" height="4.6" fill="#000"/>
<rect x="110.10000000000001" y="408.4" width="5.2" height="5.2" fill="#000"/>
<rect x="106.7" y="408.7" width="4.6" height="4.6" fill="#000"/>
<rect x="113.7" y="408.7" width="4.6" height="4.6" fill="#000"/>
<line x1="135.6" y1="356.1" x2="135.6" y2="401.3" stroke="#000" stroke-width="1.8"/>
<line x1="133.1" y1="356.1" x2="138.1" y2="356.1" stroke="#000" stroke-width="1.8"/>
<line x1="133.1" y1="401.3" x2="138.1" y2="401.3" stroke="#000" stroke-width="1.8"/>
<polygon points="133.84,356.4 137.35999999999999,356.4 135.6,359.76" fill="#000"/>
<polygon points="133.84,373.4 137.35999999999999,373.4 135.6,376.76" fill="#000"/>
<polygon points="133.84,398.4 137.35999999999999,398.4 135.6,401.76" fill="#000"/>
<line x1="158.2" y1="382.5" x2="158.2" y2="418.5" stroke="#000" stroke-width="1.8"/>
<line x1="155.7" y1="382.5" x2="160.7" y2="382.5" stroke="#000" stroke-width="1.8"/>
<line x1="155.7" y1="418.5" x2="160.7" y2="418.5" stroke="#000" stroke-width="1.8"/>
<polygon points="156.0,381 160.39999999999998,381 158.2,385.2" fill="#000"/>
<polygon points="156.44,400.4 159.95999999999998,400.4 158.2,403.76" fill="#000"/>
<polygon points="156.44,415.9 159.95999999999998,415.9 158.2,419.26" fill="#000"/>
<line x1="181.6" y1="397.1" x2="181.6" y2="422.5" stroke="#000" stroke-width="1.8"/>
<line x1="179.1" y1="397.1" x2="184.1" y2="397.1" stroke="#000" stroke-width="1.8"/>
<line x1="179.1" y1="422.5" x2="184.1" y2="422.5" stroke="#000" stroke-width="1.8"/>
<polygon points="179.18,399.7 184.01999999999998,399.7 181.6,395.08" fill="#000"/>
<polygon points="179.84,413.6 183.35999999999999,413.6 181.6,410.24" fill="#000"/>
<polygon points="179.62,419.7 183.57999999999998,419.7 181.6,423.48" fill="#000"/>
<line x1="204" y1="413.1" x2="204" y2="430.8" stroke="#000" stroke-width="1.8"/>
<line x1="201.5" y1="413.1" x2="206.5" y2="413.1" stroke="#000" stroke-width="1.8"/>
<line x1="201.5" y1="430.8" x2="206.5" y2="430.8" stroke="#000" stroke-width="1.8"/>
<circle cx="204" cy="412.5" r="2.5" fill="#000"/>
<circle cx="199.5" cy="430.5" r="2.5" fill="#000"/>
<circle cx="208.5" cy="427" r="2.5" fill="#000"/>
<line x1="227" y1="378.9" x2="227" y2="395.9" stroke="#000" stroke-width="1.8"/>
<line x1="224.5" y1="378.9" x2="229.5" y2="378.9" stroke="#000" stroke-width="1.8"/>
<line x1="224.5" y1="395.9" x2="229.5" y2="395.9" stroke="#000" stroke-width="1.8"/>
<circle cx="227" cy="379.5" r="2.6" fill="#000"/>
<circle cx="227" cy="387" r="2.6" fill="#000"/>
<circle cx="227" cy="395.5" r="2.6" fill="#000"/>
<polyline points="89.6,351.5 89.6,347.0 134.3,347.0 134.3,351.5" fill="none" stroke="#000" stroke-width="1.8"/>
<text x="107.9" y="346.82" font-size="11.62" text-anchor="start" font-weight="bold" fill="#000" textLength="10.48" lengthAdjust="spacingAndGlyphs">**</text>
<polyline points="134.3,342.1 134.3,337.8 202.8,337.8 202.8,342.1" fill="none" stroke="#000" stroke-width="1.8"/>
<text x="156.3" y="334.2" font-size="15.29" text-anchor="start" font-weight="bold" fill="#000" textLength="24.67" lengthAdjust="spacingAndGlyphs">###</text>
<rect x="79.8" y="441.9" width="138.4" height="24.1" fill="#dedede" stroke="#2a2a2a" stroke-width="1"/>
<rect x="218.2" y="441.9" width="23.0" height="24.1" fill="#c9c9c9" stroke="#2a2a2a" stroke-width="1"/>
<ellipse cx="91.2" cy="455.0" rx="4.0" ry="5.0" fill="#c9c9c9" opacity="1" filter="url(#b11)"/>
<ellipse cx="113.9" cy="455.0" rx="4.0" ry="5.0" fill="#cbcbcb" opacity="1" filter="url(#b11)"/>
<ellipse cx="136.5" cy="455.0" rx="4.25" ry="5.25" fill="#c6c6c6" opacity="1" filter="url(#b11)"/>
<ellipse cx="160" cy="455.0" rx="4.0" ry="5.0" fill="#c9c9c9" opacity="1" filter="url(#b11)"/>
<ellipse cx="182.8" cy="455.0" rx="4.0" ry="5.0" fill="#cdcdcd" opacity="1" filter="url(#b11)"/>
<ellipse cx="206" cy="455.0" rx="3.5" ry="4.5" fill="#d6d6d6" opacity="1" filter="url(#b11)"/>
<ellipse cx="228.3" cy="455.0" rx="4.75" ry="5.5" fill="#8a8a8a" opacity="1" filter="url(#b11)"/>
<text x="54.76" y="478.1" font-size="9.86" text-anchor="start" font-weight="bold" fill="#000" textLength="28.71" lengthAdjust="spacingAndGlyphs">R568</text>
<rect x="90.8" y="473.75" width="5.6" height="2.9" fill="#000"/>
<rect x="114.60000000000001" y="473.75" width="5.6" height="2.9" fill="#000"/>
<rect x="131.2" y="473.75" width="8.6" height="2.9" fill="#000"/>
<rect x="134.05" y="470.84999999999997" width="2.9" height="8.7" fill="#000"/>
<rect x="161.0" y="473.75" width="5.6" height="2.9" fill="#000"/>
<rect x="179.7" y="473.75" width="5.6" height="2.9" fill="#000"/>
<rect x="201.29999999999998" y="473.75" width="5.6" height="2.9" fill="#000"/>
<line x1="107.8" y1="482.8" x2="143.4" y2="482.8" stroke="#000" stroke-width="1.8"/>
<line x1="150.8" y1="482.8" x2="214.7" y2="482.8" stroke="#000" stroke-width="1.8"/>
<text x="19.4" y="493.3" font-size="11.3" text-anchor="start" font-weight="bold" fill="#000" textLength="61.8" lengthAdjust="spacingAndGlyphs">CaCl<tspan font-size="8.1" dy="2.5">2</tspan><tspan dy="-2.5"> [mM]</tspan></text>
<text x="84.21" y="493.2" font-size="10.0" text-anchor="start" font-weight="bold" fill="#000" textLength="17.16" lengthAdjust="spacingAndGlyphs">0.5</text>
<text x="122.17" y="493.6" font-size="10.43" text-anchor="start" font-weight="bold" fill="#000">1</text>
<text x="179.27" y="493.6" font-size="10.43" text-anchor="start" font-weight="bold" fill="#000">1</text>
<text x="216.94" y="492.49" font-size="10.85" text-anchor="start" font-weight="bold" fill="#000" textLength="24.44" lengthAdjust="spacingAndGlyphs">FBS</text>
<line x1="151.2" y1="497.8" x2="215.7" y2="497.8" stroke="#000" stroke-width="1.8"/>
<text x="0.78" y="510.1" font-size="10.87" text-anchor="start" font-weight="bold" fill="#000" textLength="81.48" lengthAdjust="spacingAndGlyphs">NPS-2143 [µM]</text>
<rect x="91.7" y="505.15000000000003" width="5.6" height="2.9" fill="#000"/>
<rect x="122.8" y="505.15000000000003" width="5.6" height="2.9" fill="#000"/>
<text x="151.7" y="510.99" font-size="10.56" text-anchor="start" font-weight="bold" fill="#000" textLength="17.27" lengthAdjust="spacingAndGlyphs">0.5</text>
<text x="178.74" y="511.1" font-size="10.87" text-anchor="start" font-weight="bold" fill="#000">1</text>
<text x="199.15" y="511.1" font-size="10.71" text-anchor="start" font-weight="bold" fill="#000">2</text>
<text x="257.68" y="307.2" font-size="17.83" text-anchor="start" font-weight="bold" fill="#000" textLength="10.72" lengthAdjust="spacingAndGlyphs">E</text>
<text transform="translate(256.6,453.04) rotate(-90)" x="0" y="0" font-size="11" font-weight="bold" textLength="128.20" lengthAdjust="spacingAndGlyphs">Relative Cell Migration</text>
<text transform="translate(270.4,463.68) rotate(-90)" x="0" y="0" font-size="11" font-weight="bold" textLength="148.86" lengthAdjust="spacingAndGlyphs">(% of CaCl<tspan font-size="7.9" dy="2.5">2</tspan><tspan dy="-2.5"> 0.25mM effect)</tspan></text>
<line x1="301.6" y1="339.0" x2="301.6" y2="438.4" stroke="#000" stroke-width="1.7"/>
<line x1="295.5" y1="339.7" x2="301.6" y2="339.7" stroke="#000" stroke-width="1.7"/>
<text x="273.19" y="344.13" font-size="10.8" text-anchor="start" font-weight="bold" fill="#000" textLength="19.46" lengthAdjust="spacingAndGlyphs">800</text>
<line x1="295.5" y1="364.2" x2="301.6" y2="364.2" stroke="#000" stroke-width="1.7"/>
<text x="273.19" y="368.63" font-size="10.8" text-anchor="start" font-weight="bold" fill="#000" textLength="19.46" lengthAdjust="spacingAndGlyphs">600</text>
<line x1="295.5" y1="388.7" x2="301.6" y2="388.7" stroke="#000" stroke-width="1.7"/>
<text x="273.19" y="393.13" font-size="10.8" text-anchor="start" font-weight="bold" fill="#000" textLength="19.46" lengthAdjust="spacingAndGlyphs">400</text>
<line x1="295.5" y1="413.2" x2="301.6" y2="413.2" stroke="#000" stroke-width="1.7"/>
<text x="273.19" y="417.63" font-size="10.8" text-anchor="start" font-weight="bold" fill="#000" textLength="19.46" lengthAdjust="spacingAndGlyphs">200</text>
<line x1="295.5" y1="437.6" x2="301.6" y2="437.6" stroke="#000" stroke-width="1.7"/>
<text x="286.13" y="442.03" font-size="10.8" text-anchor="start" font-weight="bold" fill="#000" textLength="6.49" lengthAdjust="spacingAndGlyphs">0</text>
<line x1="294.5" y1="437.6" x2="445.5" y2="437.6" stroke="#000" stroke-width="1.8"/>
<rect x="307.25" y="426.05" width="14.500000000000046" height="11.550000000000034" fill="#ffffff" stroke="#000" stroke-width="1.7"/>
<rect x="330.95000000000005" y="379.65000000000003" width="14.8" height="57.95000000000001" fill="#575757" stroke="#000" stroke-width="1.7"/>
<rect x="354.35" y="422.45000000000005" width="14.900000000000023" height="15.15" fill="#575757" stroke="#000" stroke-width="1.7"/>
<rect x="378.55" y="412.25" width="14.49999999999999" height="25.350000000000044" fill="#8c8c8c" stroke="#000" stroke-width="1.7"/>
<rect x="402.75" y="377.05" width="14.3" height="60.55000000000003" fill="#e6e6e6" stroke="#000" stroke-width="1.7"/>
<rect x="426.45000000000005" y="394.95000000000005" width="14.3" height="42.65" fill="#575757" stroke="#000" stroke-width="1.7"/>
<line x1="314.5" y1="416.5" x2="314.5" y2="431.8" stroke="#000" stroke-width="1.8"/>
<line x1="312.0" y1="416.5" x2="317.0" y2="416.5" stroke="#000" stroke-width="1.8"/>
<line x1="312.0" y1="431.8" x2="317.0" y2="431.8" stroke="#000" stroke-width="1.8"/>
<polygon points="309.52,422.7 313.48,422.7 311.5,426.48" fill="#000"/>
<polygon points="315.52,422.7 319.48,422.7 317.5,426.48" fill="#000"/>
<polygon points="312.74,429.4 316.26,429.4 314.5,432.76" fill="#000"/>
<line x1="338.2" y1="347.7" x2="338.2" y2="415.7" stroke="#000" stroke-width="1.8"/>
<line x1="335.7" y1="347.7" x2="340.7" y2="347.7" stroke="#000" stroke-width="1.8"/>
<line x1="335.7" y1="415.7" x2="340.7" y2="415.7" stroke="#000" stroke-width="1.8"/>
<rect x="335" y="355.6" width="6.4" height="3.2" fill="#000"/>
<rect x="335" y="364.2" width="6.4" height="3.2" fill="#000"/>
<rect x="335.3" y="411.2" width="5.8" height="2.2" fill="#000"/>
<rect x="335.3" y="414.4" width="5.8" height="2.2" fill="#000"/>
<line x1="361.7" y1="412.4" x2="361.7" y2="434.3" stroke="#000" stroke-width="1.8"/>
<line x1="359.2" y1="412.4" x2="364.2" y2="412.4" stroke="#000" stroke-width="1.8"/>
<line x1="359.2" y1="434.3" x2="364.2" y2="434.3" stroke="#000" stroke-width="1.8"/>
<polygon points="355.8,414 360.2,414 358,409.8" fill="#000"/>
<polygon points="363.3,421 367.7,421 365.5,416.8" fill="#000"/>
<polygon points="359.94,431.4 363.46,431.4 361.7,434.76" fill="#000"/>
<line x1="386.1" y1="399.2" x2="386.1" y2="424.1" stroke="#000" stroke-width="1.8"/>
<line x1="383.6" y1="399.2" x2="388.6" y2="399.2" stroke="#000" stroke-width="1.8"/>
<line x1="383.6" y1="424.1" x2="388.6" y2="424.1" stroke="#000" stroke-width="1.8"/>
<polygon points="383.68,413.7 388.52000000000004,413.7 386.1,409.08" fill="#000"/>
<polygon points="384.34000000000003,421.9 387.86,421.9 386.1,425.26" fill="#000"/>
<line x1="409.6" y1="346.2" x2="409.6" y2="410.6" stroke="#000" stroke-width="1.8"/>
<line x1="407.1" y1="346.2" x2="412.1" y2="346.2" stroke="#000" stroke-width="1.8"/>
<line x1="407.1" y1="410.6" x2="412.1" y2="410.6" stroke="#000" stroke-width="1.8"/>
<polygon points="407.84000000000003,345.9 411.36,345.9 409.6,349.26" fill="#000"/>
<polygon points="408.06,370.4 411.14000000000004,370.4 409.6,367.46" fill="#000"/>
<polygon points="407.84000000000003,409.1 411.36,409.1 409.6,405.74" fill="#000"/>
<polygon points="407.84000000000003,408.4 411.36,408.4 409.6,411.76" fill="#000"/>
<line x1="433" y1="365.5" x2="433" y2="427.7" stroke="#000" stroke-width="1.8"/>
<line x1="430.5" y1="365.5" x2="435.5" y2="365.5" stroke="#000" stroke-width="1.8"/>
<line x1="430.5" y1="427.7" x2="435.5" y2="427.7" stroke="#000" stroke-width="1.8"/>
<ellipse cx="433" cy="374.5" rx="3.75" ry="2.3" fill="#000" opacity="1" filter="url(#b2)"/>
<ellipse cx="433" cy="382.5" rx="3.75" ry="2.3" fill="#000" opacity="1" filter="url(#b2)"/>
<ellipse cx="433" cy="426.5" rx="3.5" ry="2.1" fill="#000" opacity="1" filter="url(#b2)"/>
<polyline points="314.0,343.5 314.0,339.2 337.8,339.2 337.8,343.5" fill="none" stroke="#000" stroke-width="1.8"/>
<text x="323.2" y="339.51" font-size="11.89" text-anchor="start" font-weight="bold" fill="#000" textLength="4.79" lengthAdjust="spacingAndGlyphs">*</text>
<polyline points="337.8,333.70000000000005 337.8,329.6 362.0,329.6 362.0,333.70000000000005" fill="none" stroke="#000" stroke-width="1.8"/>
<text x="346.21" y="327.0" font-size="15.29" text-anchor="start" font-weight="bold" fill="#000" textLength="8.13" lengthAdjust="spacingAndGlyphs">#</text>
<rect x="296.8" y="443.6" width="144.2" height="22.7" fill="#dcdcdc" stroke="#222" stroke-width="1.1"/>
<rect x="401.4" y="443.6" width="20.1" height="22.7" fill="#d0d0d0" stroke="#222" stroke-width="1.1"/>
<rect x="421.5" y="443.6" width="19.5" height="22.7" fill="#d6d6d6" stroke="#222" stroke-width="1.1"/>
<line x1="348.3" y1="443.6" x2="348.3" y2="466.3" stroke="#222" stroke-width="1.1"/>
<ellipse cx="307" cy="453.4" rx="4.0" ry="4.5" fill="#d2d2d2" opacity="1" filter="url(#b12)"/>
<ellipse cx="340.2" cy="453.4" rx="5.0" ry="5.5" fill="#a9a9a9" opacity="1" filter="url(#b12)"/>
<ellipse cx="357.8" cy="453.4" rx="4.0" ry="4.5" fill="#d0d0d0" opacity="1" filter="url(#b12)"/>
<ellipse cx="392.1" cy="453.4" rx="5.0" ry="5.0" fill="#b2b2b2" opacity="1" filter="url(#b12)"/>
<ellipse cx="410.9" cy="453.4" rx="5.5" ry="5.5" fill="#a0a0a0" opacity="1" filter="url(#b12)"/>
<ellipse cx="431.9" cy="453.4" rx="5.5" ry="5.5" fill="#9a9a9a" opacity="1" filter="url(#b12)"/>
<text x="241.9" y="479.9" font-size="11" text-anchor="start" font-weight="bold" fill="#000" textLength="66.0" lengthAdjust="spacingAndGlyphs">CaCl<tspan font-size="7.9" dy="2.5">2</tspan><tspan dy="-2.5">+R568</tspan></text>
<rect x="312.3" y="474.35" width="5.6" height="2.9" fill="#000"/>
<rect x="332.2" y="474.95" width="8.6" height="2.9" fill="#000"/>
<rect x="335.05" y="472.04999999999995" width="2.9" height="8.7" fill="#000"/>
<rect x="354.3" y="474.95" width="8.6" height="2.9" fill="#000"/>
<rect x="357.15000000000003" y="472.04999999999995" width="2.9" height="8.7" fill="#000"/>
<rect x="378.3" y="474.95" width="8.6" height="2.9" fill="#000"/>
<rect x="381.15000000000003" y="472.04999999999995" width="2.9" height="8.7" fill="#000"/>
<rect x="407.7" y="474.35" width="5.6" height="2.9" fill="#000"/>
<rect x="432.4" y="474.35" width="5.6" height="2.9" fill="#000"/>
<line x1="308.2" y1="483.7" x2="341.8" y2="483.7" stroke="#000" stroke-width="1.8"/>
<line x1="353.6" y1="483.7" x2="369.7" y2="483.7" stroke="#000" stroke-width="1.8"/>
<line x1="377.3" y1="483.7" x2="393.9" y2="483.7" stroke="#000" stroke-width="1.8"/>
<line x1="402.4" y1="483.7" x2="418.8" y2="483.7" stroke="#000" stroke-width="1.8"/>
<line x1="425.1" y1="483.7" x2="442" y2="483.7" stroke="#000" stroke-width="1.8"/>
<text x="300.92" y="495.29" font-size="10.68" text-anchor="start" font-weight="bold" fill="#000" textLength="42.24" lengthAdjust="spacingAndGlyphs">Control</text>
<text x="348.96" y="495.6" font-size="11.3" text-anchor="start" font-weight="bold" fill="#000" textLength="23.3" lengthAdjust="spacingAndGlyphs">PTX</text>
<text x="377.0" y="495.6" font-size="11.3" text-anchor="start" font-weight="bold" fill="#000" textLength="21.75" lengthAdjust="spacingAndGlyphs">Wm</text>
<text x="401.09" y="495.49" font-size="10.99" text-anchor="start" font-weight="bold" fill="#000" textLength="23.28" lengthAdjust="spacingAndGlyphs">FBS</text>
<text x="430.67" y="495.49" font-size="10.99" text-anchor="start" font-weight="bold" fill="#000" textLength="23.7" lengthAdjust="spacingAndGlyphs">FBS</text>
<text x="427.34" y="509.8" font-size="10.87" text-anchor="start" font-weight="bold" fill="#000" textLength="31.1" lengthAdjust="spacingAndGlyphs">+ Wm</text>
<text x="461.53" y="307.2" font-size="17.83" text-anchor="start" font-weight="bold" fill="#000" textLength="11.12" lengthAdjust="spacingAndGlyphs">F</text>
<text transform="translate(459.0,453.73) rotate(-90)" x="0" y="0" font-size="11" font-weight="bold" textLength="127.80" lengthAdjust="spacingAndGlyphs">Relative Cell Migration</text>
<text transform="translate(473.4,465.39) rotate(-90)" x="0" y="0" font-size="11" font-weight="bold" textLength="150.18" lengthAdjust="spacingAndGlyphs">(% of CaCl<tspan font-size="7.9" dy="2.5">2</tspan><tspan dy="-2.5"> 0.25mM effect)</tspan></text>
<line x1="505.1" y1="338.2" x2="505.1" y2="437.5" stroke="#000" stroke-width="1.7"/>
<line x1="499.8" y1="353.5" x2="505.1" y2="353.5" stroke="#000" stroke-width="1.7"/>
<text x="472.0" y="357.79" font-size="11.0" text-anchor="start" font-weight="bold" fill="#000" textLength="26.91" lengthAdjust="spacingAndGlyphs">1000</text>
<line x1="499.8" y1="395.5" x2="505.1" y2="395.5" stroke="#000" stroke-width="1.7"/>
<text x="478.78" y="399.79" font-size="11.0" text-anchor="start" font-weight="bold" fill="#000" textLength="20.19" lengthAdjust="spacingAndGlyphs">500</text>
<line x1="499.8" y1="437.0" x2="505.1" y2="437.0" stroke="#000" stroke-width="1.7"/>
<text x="492.21" y="441.29" font-size="11.0" text-anchor="start" font-weight="bold" fill="#000" textLength="6.73" lengthAdjust="spacingAndGlyphs">0</text>
<line x1="499.8" y1="436.6" x2="703.7" y2="436.6" stroke="#000" stroke-width="1.8"/>
<rect x="508.3" y="431.90000000000003" width="12.699999999999955" height="4.7" fill="#ffffff" stroke="#000" stroke-width="1.6"/>
<rect x="528.0999999999999" y="411.1" width="12.700000000000069" height="25.50000000000001" fill="#474747" stroke="#000" stroke-width="1.6"/>
<rect x="547.9" y="407.6" width="12.699999999999955" height="29.00000000000001" fill="#6a6a6a" stroke="#000" stroke-width="1.6"/>
<rect x="567.8" y="388.3" width="12.600000000000046" height="48.300000000000026" fill="#767676" stroke="#000" stroke-width="1.6"/>
<rect x="587.4" y="371.5" width="12.799999999999978" height="65.10000000000004" fill="#9a9a9a" stroke="#000" stroke-width="1.6"/>
<rect x="607.4" y="429.7" width="12.500000000000023" height="6.900000000000046" fill="#dddddd" stroke="#000" stroke-width="1.6"/>
<rect x="627.1999999999999" y="429.3" width="12.600000000000046" height="7.300000000000023" fill="#4a4a4a" stroke="#000" stroke-width="1.6"/>
<rect x="647.5" y="431.2" width="12.49999999999991" height="5.400000000000046" fill="#666666" stroke="#000" stroke-width="1.6"/>
<rect x="667.3" y="427.40000000000003" width="12.500000000000023" height="9.2" fill="#888888" stroke="#000" stroke-width="1.6"/>
<rect x="686.9" y="392.0" width="13.199999999999955" height="44.60000000000004" fill="#c8c8c8" stroke="#000" stroke-width="1.6"/>
<line x1="514.5" y1="429.8" x2="514.5" y2="432.5" stroke="#000" stroke-width="1.8"/>
<line x1="512.5" y1="429.8" x2="516.5" y2="429.8" stroke="#000" stroke-width="1.8"/>
<line x1="512.5" y1="432.5" x2="516.5" y2="432.5" stroke="#000" stroke-width="1.8"/>
<circle cx="511.5" cy="430.5" r="2.2" fill="#000"/>
<circle cx="516.5" cy="430.5" r="2.2" fill="#000"/>
<line x1="534.7" y1="393.9" x2="534.7" y2="426.2" stroke="#000" stroke-width="1.8"/>
<line x1="532.7" y1="393.9" x2="536.7" y2="393.9" stroke="#000" stroke-width="1.8"/>
<line x1="532.7" y1="426.2" x2="536.7" y2="426.2" stroke="#000" stroke-width="1.8"/>
<rect x="532.4000000000001" y="392.2" width="4.6" height="4.6" fill="#000"/>
<rect x="532.4000000000001" y="406.7" width="4.6" height="4.6" fill="#000"/>
<rect x="532.4000000000001" y="423.2" width="4.6" height="4.6" fill="#000"/>
<line x1="554.5" y1="395.5" x2="554.5" y2="416.3" stroke="#000" stroke-width="1.8"/>
<line x1="552.5" y1="395.5" x2="556.5" y2="395.5" stroke="#000" stroke-width="1.8"/>
<line x1="552.5" y1="416.3" x2="556.5" y2="416.3" stroke="#000" stroke-width="1.8"/>
<polygon points="552.08,398.7 556.92,398.7 554.5,394.08" fill="#000"/>
<polygon points="549.3,415 553.7,415 551.5,410.8" fill="#000"/>
<polygon points="555.3,415 559.7,415 557.5,410.8" fill="#000"/>
<line x1="574.3" y1="370.7" x2="574.3" y2="401.8" stroke="#000" stroke-width="1.8"/>
<line x1="572.3" y1="370.7" x2="576.3" y2="370.7" stroke="#000" stroke-width="1.8"/>
<line x1="572.3" y1="401.8" x2="576.3" y2="401.8" stroke="#000" stroke-width="1.8"/>
<polygon points="572.3199999999999,369.2 576.28,369.2 574.3,372.98" fill="#000"/>
<polygon points="572.54,387.4 576.06,387.4 574.3,390.76" fill="#000"/>
<polygon points="572.3199999999999,399.2 576.28,399.2 574.3,402.98" fill="#000"/>
<line x1="594.1" y1="352.3" x2="594.1" y2="388.5" stroke="#000" stroke-width="1.8"/>
<line x1="592.1" y1="352.3" x2="596.1" y2="352.3" stroke="#000" stroke-width="1.8"/>
<line x1="592.1" y1="388.5" x2="596.1" y2="388.5" stroke="#000" stroke-width="1.8"/>
<circle cx="594.1" cy="352.5" r="2.5" fill="#000"/>
<polygon points="592.12,367.8 596.08,367.8 594.1,364.02" fill="#000"/>
<polygon points="592.12,386.7 596.08,386.7 594.1,390.48" fill="#000"/>
<circle cx="610.6" cy="423.7" r="2.6" fill="#000"/>
<circle cx="614.6" cy="425.6" r="2.4" fill="#000"/>
<circle cx="614.1" cy="433.2" r="2.6" fill="#000"/>
<line x1="634.2" y1="423.3" x2="634.2" y2="431" stroke="#000" stroke-width="1.8"/>
<line x1="632.2" y1="423.3" x2="636.2" y2="423.3" stroke="#000" stroke-width="1.8"/>
<line x1="632.2" y1="431" x2="636.2" y2="431" stroke="#000" stroke-width="1.8"/>
<rect x="632.2" y="421.3" width="4.0" height="4.0" fill="#000"/>
<rect x="628.8" y="427.8" width="4.4" height="4.4" fill="#000"/>
<rect x="634.8" y="427.8" width="4.4" height="4.4" fill="#000"/>
<circle cx="650.7" cy="427.3" r="2.4" fill="#000"/>
<circle cx="656.1" cy="428.9" r="2.3" fill="#000"/>
<circle cx="653.5" cy="432.5" r="2.3" fill="#000"/>
<circle cx="670.7" cy="423.3" r="2.6" fill="#000"/>
<circle cx="675.9" cy="424" r="2.6" fill="#000"/>
<polygon points="669.9000000000001,425.5 676.5,425.5 673.2,431.8" fill="#000"/>
<line x1="693.6" y1="377.8" x2="693.6" y2="407.2" stroke="#000" stroke-width="1.8"/>
<line x1="691.6" y1="377.8" x2="695.6" y2="377.8" stroke="#000" stroke-width="1.8"/>
<line x1="691.6" y1="407.2" x2="695.6" y2="407.2" stroke="#000" stroke-width="1.8"/>
<circle cx="693.6" cy="377.8" r="2.7" fill="#000"/>
<circle cx="693.6" cy="390.3" r="2.7" fill="#000"/>
<circle cx="693.6" cy="407" r="2.7" fill="#000"/>
<polyline points="514.3,350.3 514.3,346.3 575.4,346.3 575.4,350.3" fill="none" stroke="#000" stroke-width="1.8"/>
<text x="536.2" y="344.26" font-size="12.7" text-anchor="start" font-weight="bold" fill="#000" textLength="15.87" lengthAdjust="spacingAndGlyphs">***</text>
<polyline points="575.4,341.0 575.4,336.8 673.4,336.8 673.4,341.0" fill="none" stroke="#000" stroke-width="1.8"/>
<text x="616.2" y="332.72" font-size="11.62" text-anchor="start" font-weight="bold" fill="#000" textLength="15.97" lengthAdjust="spacingAndGlyphs">***</text>
<rect x="506.4" y="442.8" width="96.2" height="17.6" fill="#e6e6e6" stroke="#3a3a3a" stroke-width="1.3"/>
<rect x="606.6" y="442.6" width="95.0" height="17.6" fill="#f0f0f0" stroke="#2a2a2a" stroke-width="1.2"/>
<ellipse cx="533.7" cy="451.8" rx="4.0" ry="5.0" fill="#cdcdcd" opacity="1" filter="url(#b10)"/>
<ellipse cx="554.3" cy="451.8" rx="4.0" ry="5.0" fill="#c8c8c8" opacity="1" filter="url(#b10)"/>
<ellipse cx="575.1" cy="451.8" rx="4.25" ry="5.0" fill="#a6a6a6" opacity="1" filter="url(#b10)"/>
<ellipse cx="595.4" cy="451.8" rx="4.5" ry="5.0" fill="#969696" opacity="1" filter="url(#b10)"/>
<ellipse cx="614.3" cy="451.8" rx="4.0" ry="5.0" fill="#e8e8e8" opacity="1" filter="url(#b10)"/>
<ellipse cx="635.3" cy="451.8" rx="4.0" ry="5.0" fill="#e6e6e6" opacity="1" filter="url(#b10)"/>
<ellipse cx="655.5" cy="451.8" rx="4.5" ry="5.0" fill="#e0e0e0" opacity="1" filter="url(#b10)"/>
<ellipse cx="674.1" cy="451.8" rx="4.5" ry="5.0" fill="#dedede" opacity="1" filter="url(#b10)"/>
<ellipse cx="694" cy="451.8" rx="4.25" ry="5.0" fill="#959595" opacity="1" filter="url(#b10)"/>
<text x="481.77" y="474.59" font-size="11.13" text-anchor="start" font-weight="bold" fill="#000" textLength="28.29" lengthAdjust="spacingAndGlyphs">R568</text>
<rect x="514.6" y="468.95" width="5.6" height="2.9" fill="#000"/>
<rect x="529.1" y="470.05" width="8.6" height="2.9" fill="#000"/>
<rect x="531.9499999999999" y="467.15" width="2.9" height="8.7" fill="#000"/>
<rect x="555.3000000000001" y="468.95" width="5.6" height="2.9" fill="#000"/>
<rect x="569.5" y="470.05" width="8.6" height="2.9" fill="#000"/>
<rect x="572.3499999999999" y="467.15" width="2.9" height="8.7" fill="#000"/>
<rect x="594.2" y="468.95" width="5.6" height="2.9" fill="#000"/>
<rect x="615.2" y="468.95" width="5.6" height="2.9" fill="#000"/>
<rect x="630.0" y="470.05" width="8.6" height="2.9" fill="#000"/>
<rect x="632.8499999999999" y="467.15" width="2.9" height="8.7" fill="#000"/>
<rect x="655.8000000000001" y="468.95" width="5.6" height="2.9" fill="#000"/>
<rect x="669.7" y="470.05" width="8.6" height="2.9" fill="#000"/>
<rect x="672.55" y="467.15" width="2.9" height="8.7" fill="#000"/>
<rect x="694.4000000000001" y="468.95" width="5.6" height="2.9" fill="#000"/>
<line x1="508.8" y1="481.3" x2="541.3" y2="481.3" stroke="#000" stroke-width="1.8"/>
<line x1="548.3" y1="481.3" x2="580.8" y2="481.3" stroke="#000" stroke-width="1.8"/>
<line x1="588.4" y1="481.3" x2="603" y2="481.3" stroke="#000" stroke-width="1.8"/>
<line x1="607.3" y1="481.3" x2="640" y2="481.3" stroke="#000" stroke-width="1.8"/>
<line x1="648" y1="481.3" x2="680.7" y2="481.3" stroke="#000" stroke-width="1.8"/>
<line x1="688.1" y1="481.3" x2="702.4" y2="481.3" stroke="#000" stroke-width="1.8"/>
<text x="518.61" y="493.99" font-size="10.85" text-anchor="start" font-weight="bold" fill="#000" textLength="17.16" lengthAdjust="spacingAndGlyphs">0.5</text>
<text x="561.01" y="494.1" font-size="11.16" text-anchor="start" font-weight="bold" fill="#000">1</text>
<text x="583.97" y="494.79" font-size="10.99" text-anchor="start" font-weight="bold" fill="#000" textLength="23.81" lengthAdjust="spacingAndGlyphs">FBS</text>
<text x="614.82" y="494.39" font-size="10.85" text-anchor="start" font-weight="bold" fill="#000" textLength="16.85" lengthAdjust="spacingAndGlyphs">0.5</text>
<text x="661.36" y="494.5" font-size="11.16" text-anchor="start" font-weight="bold" fill="#000">1</text>
<text x="683.88" y="494.79" font-size="10.99" text-anchor="start" font-weight="bold" fill="#000" textLength="23.39" lengthAdjust="spacingAndGlyphs">FBS</text>
<line x1="509.2" y1="497.7" x2="580.3" y2="497.7" stroke="#000" stroke-width="1.8"/>
<line x1="607.9" y1="497.7" x2="683.1" y2="497.7" stroke="#000" stroke-width="1.8"/>
<text x="513.6" y="509.1" font-size="11.8" text-anchor="start" font-weight="bold" fill="#000" textLength="66.0" lengthAdjust="spacingAndGlyphs">CaCl<tspan font-size="8.5" dy="2.5">2</tspan><tspan dy="-2.5"></tspan><tspan dx="4.5" dy="-2.5">[mM]</tspan></text>
<text x="625.4" y="509.1" font-size="11.5" text-anchor="start" font-weight="bold" fill="#000" textLength="62.2" lengthAdjust="spacingAndGlyphs">CaCl<tspan font-size="8.3" dy="2.5">2</tspan><tspan dy="-2.5"> [mM]</tspan></text>
<line x1="508.3" y1="514.9" x2="602.1" y2="514.9" stroke="#000" stroke-width="1.8"/>
<line x1="607.9" y1="514.9" x2="701.9" y2="514.9" stroke="#000" stroke-width="1.8"/>
<text x="531.22" y="525.6" font-size="10.14" text-anchor="start" font-weight="bold" fill="#000" textLength="43.07" lengthAdjust="spacingAndGlyphs">Control</text>
<text x="608.45" y="525.8" font-size="11.16" text-anchor="start" font-weight="bold" fill="#000" textLength="86.51" lengthAdjust="spacingAndGlyphs">24h Rapamycin</text>
</svg>
</body></html>
